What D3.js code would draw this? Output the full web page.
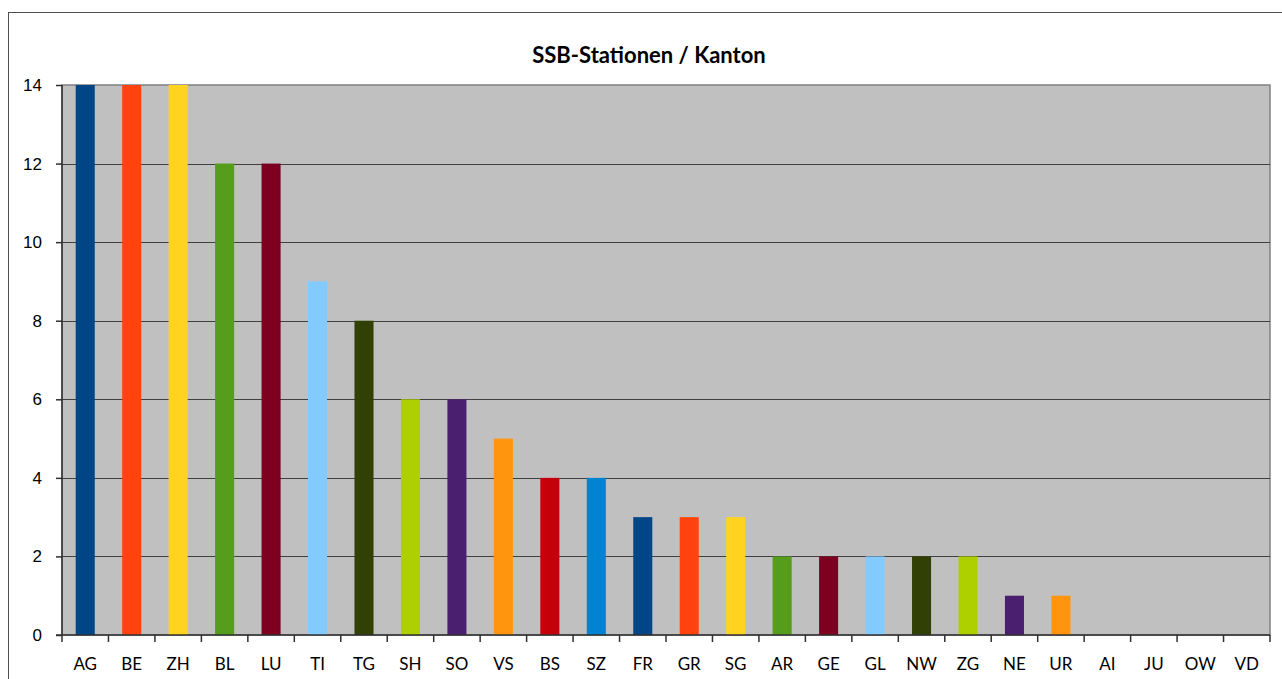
<!DOCTYPE html>
<html>
<head>
<meta charset="utf-8">
<script src="https://cdn.jsdelivr.net/npm/d3@7"></script>
<style>
  body { margin: 0; background: #fff; }
  svg { display: block; font-family: Lato, "Open Sans", sans-serif; }
</style>
</head>
<body>
<div id="bar_chart"></div>
<script>
/* SSB-Stationen pro Kanton */

const kantone = ["AG", "BE", "ZH", "BL", "LU", "TI", "TG", "SH", "SO", "VS", "BS", "SZ", "FR",
                 "GR", "SG", "AR", "GE", "GL", "NW", "ZG", "NE", "UR", "AI", "JU", "OW", "VD"];
const stationen = [14, 14, 14, 12, 12, 9, 8, 6, 6, 5, 4, 4, 3, 3, 3, 2, 2, 2, 2, 2, 1, 1, 0, 0, 0, 0];
const yTicks = [0, 2, 4, 6, 8, 10, 12, 14];
const palette = ["#004586", "#ff420e", "#ffd320", "#579d1c", "#7e0021", "#83caff",
                 "#314004", "#aecf00", "#4b1f6f", "#ff950e", "#c5000b", "#0084d1"];

const data = kantone.map((k, i) => ({ k: k, n: stationen[i] }));

const width = 1282,
      height = 679,
      margin = ({ top: 85, right: 12, bottom: 44, left: 62 });

let svg = d3.select("#bar_chart")
    .append("svg")
    .attr("width", width)
    .attr("height", height);

// outer frame
svg.append("rect")
    .attr("x", 8.5)
    .attr("y", 12.5)
    .attr("width", width)
    .attr("height", height)
    .attr("fill", "none")
    .attr("stroke", "#505050")
    .attr("stroke-width", 1);

let x = d3.scaleBand()
    .domain(kantone)
    .range([margin.left, width - margin.right]);

let y = d3.scaleLinear()
    .domain([0, 14])
    .range([height - margin.bottom, margin.top]);

let color = d3.scaleOrdinal()
    .domain(kantone)
    .range(palette);

// plot background
svg.append("rect")
    .attr("x", margin.left)
    .attr("y", y(14))
    .attr("width", width - margin.right - margin.left)
    .attr("height", y(0) - y(14))
    .attr("fill", "#c0c0c0")
    .attr("stroke", "#808080")
    .attr("stroke-width", 1.5);

// gridlines
svg.append("g")
    .selectAll("line")
    .data(yTicks.filter(t => t > 0 && t < 14))
    .join("line")
    .attr("x1", margin.left)
    .attr("x2", width - margin.right)
    .attr("y1", d => Math.round(y(d)) + 0.5)
    .attr("y2", d => Math.round(y(d)) + 0.5)
    .attr("stroke", "#404040")
    .attr("stroke-width", 1);

// bars
svg.append("g")
    .selectAll("rect")
    .data(data)
    .join("rect")
    .attr("fill", d => color(d.k))
    .attr("x", d => x(d.k) + x.bandwidth() * 0.295)
    .attr("width", x.bandwidth() * 0.41)
    .attr("y", d => y(d.n))
    .attr("height", d => y(0) - y(d.n));

// y axis
let yAxis = svg.append("g")
    .attr("transform", `translate(${margin.left},0)`)
    .call(d3.axisLeft(y).tickValues(yTicks).tickSize(6).tickPadding(14));
yAxis.selectAll("path, line").attr("stroke", "#303030").attr("stroke-width", 1.5);
yAxis.select(".domain").attr("d", `M0,${y(14)}V${y(0)}`);
yAxis.selectAll("text").style("font-size", "17px").attr("fill", "#000");

// x axis, ticks sit between categories
let xAxis = svg.append("g")
    .attr("transform", `translate(0,${y(0)})`);
xAxis.append("line")
    .attr("x1", margin.left - 6)
    .attr("x2", width - margin.right)
    .attr("stroke", "#303030")
    .attr("stroke-width", 1.5);
xAxis.selectAll(".tk")
    .data(kantone.concat(["end"]))
    .join("line")
    .attr("class", "tk")
    .attr("x1", (d, i) => margin.left + i * x.step())
    .attr("x2", (d, i) => margin.left + i * x.step())
    .attr("y1", 0)
    .attr("y2", 7)
    .attr("stroke", "#303030")
    .attr("stroke-width", 1.5);
xAxis.selectAll(".lbl")
    .data(kantone)
    .join("text")
    .attr("class", "lbl")
    .attr("x", d => x(d) + x.bandwidth() / 2)
    .attr("y", 35)
    .attr("text-anchor", "middle")
    .style("font-size", "17px")
    .text(d => d);

// title
svg.append("text")
    .attr("x", 649)
    .attr("y", 63)
    .attr("text-anchor", "middle")
    .style("font-size", "22px")
    .style("font-weight", "bold")
    .text("SSB-Stationen / Kanton");
</script>
</body>
</html>
